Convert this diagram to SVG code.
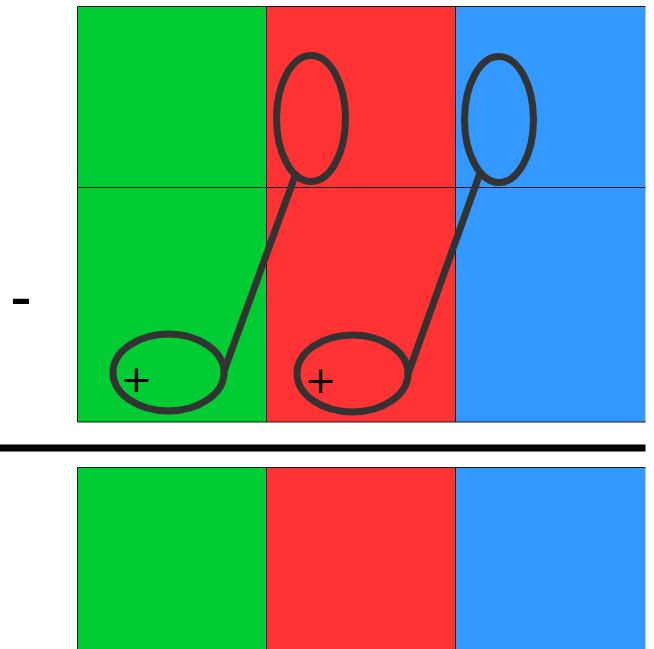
<svg xmlns="http://www.w3.org/2000/svg" width="654" height="649" viewBox="0 0 654 649">
<style>
.g{fill:#00cc33}
.r{fill:#ff3333}
.b{fill:#3399ff}
.bd{stroke:#1a1a1a;stroke-width:1;fill:none}
.ring{fill:none;stroke:#333333;stroke-width:7}
.lnk{stroke:#333333;stroke-width:7;stroke-linecap:round;fill:none}
.sym{font-family:"DejaVu Sans",sans-serif;fill:#000000}
</style>
<rect width="654" height="649" fill="#ffffff"/>
<g id="top-cells">
<rect class="g" x="77.5" y="6.5" width="189" height="415.5"/>
<rect class="r" x="266.5" y="6.5" width="189" height="415.5"/>
<rect class="b" x="455.5" y="6.5" width="190" height="415.5"/>
<path class="bd" d="M645.5,6.5 H77.5 V422 H645.5 M266.5,6.5 V422 M455.5,6.5 V422 M77.5,187.5 H645.5"/>
</g>
<g id="bottom-cells">
<rect class="g" x="77.5" y="467.5" width="189" height="181.5"/>
<rect class="r" x="266.5" y="467.5" width="189" height="181.5"/>
<rect class="b" x="455.5" y="467.5" width="190" height="181.5"/>
<path class="bd" d="M645.5,467.5 H77.5 V649 M266.5,467.5 V649 M455.5,467.5 V649"/>
</g>
<g id="divider">
<rect x="0" y="444.5" width="645.5" height="7" fill="#000000"/>
</g>
<text id="minus" class="sym" x="10" y="318.7" font-size="66" style="font-family:'Liberation Sans',sans-serif">-</text>
<g id="loop-green">
<ellipse class="ring" cx="168.5" cy="372.5" rx="55.5" ry="38.5"/>
<text class="sym" x="136.5" y="392" font-size="38" text-anchor="middle">+</text>
</g>
<g id="loop-red">
<ellipse class="ring" cx="352.5" cy="373.5" rx="55.5" ry="38.5"/>
<text class="sym" x="320.5" y="393" font-size="38" text-anchor="middle">+</text>
</g>
<g id="top-red">
<ellipse class="ring" cx="311" cy="118.5" rx="34.5" ry="63"/>
</g>
<g id="top-blue">
<ellipse class="ring" cx="499" cy="119.5" rx="34.5" ry="63"/>
</g>
<g id="connectors">
<line class="lnk" x1="295" y1="176" x2="224" y2="371"/>
<line class="lnk" x1="479" y1="176" x2="408" y2="374"/>
</g>
</svg>
